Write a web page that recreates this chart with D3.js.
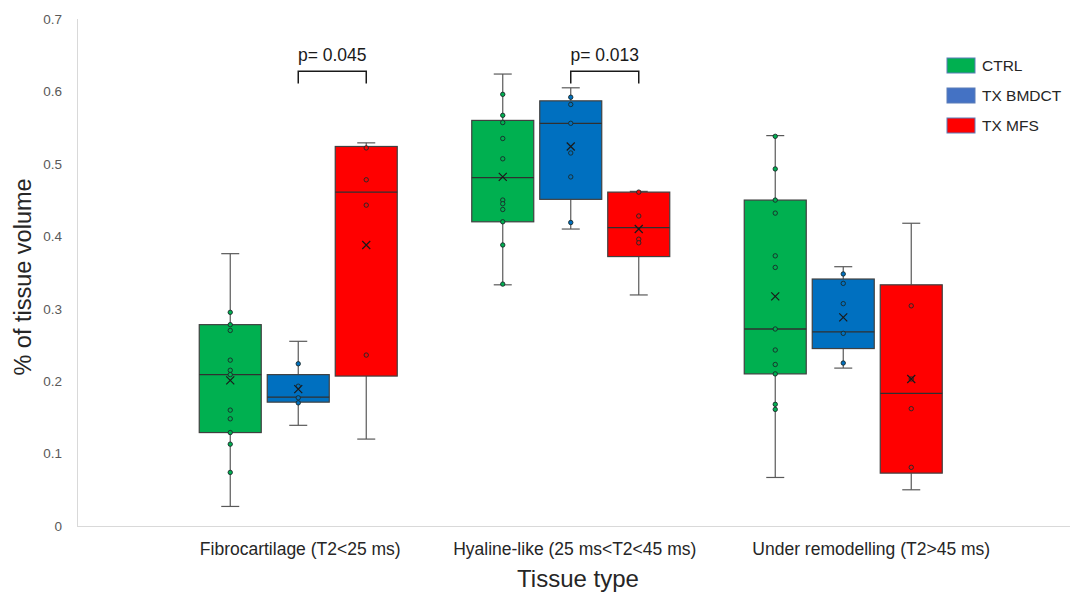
<!DOCTYPE html>
<html><head><meta charset="utf-8">
<script src="https://cdn.jsdelivr.net/npm/d3@7"></script>
<style>body{margin:0;background:#fff}svg{display:block}text{font-family:"Liberation Sans",Arial,sans-serif}</style>
</head><body><svg id="c" width="1070" height="594"></svg>
<script>
const categories = ["Fibrocartilage (T2<25 ms)", "Hyaline-like (25 ms<T2<45 ms)", "Under remodelling (T2>45 ms)"];
const series = ["CTRL", "TX BMDCT", "TX MFS"];
const yTicks = [0, 0.1, 0.2, 0.3, 0.4, 0.5, 0.6, 0.7];

const ctrlMin = [0.027, 0.333, 0.067];
const ctrlQ1 = [0.129, 0.420, 0.210];
const ctrlMedian = [0.209, 0.481, 0.272];
const ctrlQ3 = [0.278, 0.560, 0.450];
const ctrlMax = [0.376, 0.624, 0.539];
const ctrlMean = [0.201, 0.482, 0.317];
const ctrlPoints = [
  [0.295, 0.278, 0.270, 0.229, 0.215, 0.209, 0.160, 0.148, 0.129, 0.113, 0.074],
  [0.596, 0.567, 0.557, 0.535, 0.507, 0.450, 0.445, 0.437, 0.420, 0.388, 0.334],
  [0.538, 0.493, 0.450, 0.432, 0.373, 0.357, 0.272, 0.243, 0.223, 0.210, 0.168, 0.161]
];

const bmdctMin = [0.139, 0.410, 0.218];
const bmdctQ1 = [0.171, 0.451, 0.245];
const bmdctMedian = [0.178, 0.556, 0.268];
const bmdctQ3 = [0.209, 0.587, 0.341];
const bmdctMax = [0.255, 0.605, 0.358];
const bmdctMean = [0.189, 0.524, 0.288];
const bmdctPoints = [
  [0.224, 0.193, 0.177, 0.170],
  [0.592, 0.582, 0.556, 0.515, 0.482, 0.419],
  [0.348, 0.335, 0.307, 0.266, 0.225]
];

const mfsMin = [0.120, 0.319, 0.050];
const mfsQ1 = [0.207, 0.372, 0.073];
const mfsMedian = [0.461, 0.412, 0.183];
const mfsQ3 = [0.524, 0.461, 0.333];
const mfsMax = [0.529, 0.462, 0.418];
const mfsMean = [0.388, 0.410, 0.203];
const mfsPoints = [
  [0.522, 0.478, 0.443, 0.236],
  [0.461, 0.428, 0.396, 0.391],
  [0.304, 0.203, 0.162, 0.081]
];

const pLabels = ["p= 0.045", "p= 0.013"];
const pCategories = [0, 1];
const pPairs = [["TX BMDCT", "TX MFS"], ["TX BMDCT", "TX MFS"]];

// ---- build ----
const boxColors = {"CTRL": "#00B050", "TX BMDCT": "#0070C0", "TX MFS": "#FF0000"};
const legendColors = {"CTRL": "#00B050", "TX BMDCT": "#4472C4", "TX MFS": "#FF0000"};
const stats = {
  "CTRL": {min: ctrlMin, q1: ctrlQ1, med: ctrlMedian, q3: ctrlQ3, max: ctrlMax, mean: ctrlMean, pts: ctrlPoints},
  "TX BMDCT": {min: bmdctMin, q1: bmdctQ1, med: bmdctMedian, q3: bmdctQ3, max: bmdctMax, mean: bmdctMean, pts: bmdctPoints},
  "TX MFS": {min: mfsMin, q1: mfsQ1, med: mfsMedian, q3: mfsQ3, max: mfsMax, mean: mfsMean, pts: mfsPoints}
};

const svg = d3.select("#c");
const y = d3.scaleLinear().domain([0, 0.7]).range([526, 19]);
const x = d3.scaleBand().domain(categories).range([162, 979.5]);
const sub = d3.scalePoint().domain(series).range([-68, 68]);
const boxW = 62, capW = 18;
const cx = (ci, s) => x(categories[ci]) + x.bandwidth() / 2 + sub(s);

// axes lines
svg.append("line").attr("x1", 77.5).attr("x2", 77.5).attr("y1", y(0.7)).attr("y2", y(0)).attr("stroke", "#d9d9d9");
svg.append("line").attr("x1", 77).attr("x2", 1070).attr("y1", y(0) + 0.5).attr("y2", y(0) + 0.5).attr("stroke", "#d9d9d9");

// y axis labels
const yAxis = d3.axisLeft(y).tickValues(yTicks).tickSize(0).tickPadding(0).tickFormat(d => d === 0 ? "0" : d3.format(".1f")(d));
const ga = svg.append("g").attr("transform", "translate(62,0)").call(yAxis);
ga.select(".domain").remove();
ga.selectAll("text").attr("font-size", 13.5).attr("fill", "#595959").attr("font-family", '"Liberation Sans",Arial,sans-serif');

// category labels
const labelNudge = [2, 4, 28];
svg.selectAll(".cat").data(categories).enter().append("text")
  .attr("x", (d, i) => x(d) + x.bandwidth() / 2 + labelNudge[i])
  .attr("y", 555).attr("text-anchor", "middle").attr("font-size", 17.5).attr("fill", "#262626").text(d => d);

svg.append("text").attr("x", 578).attr("y", 587).attr("text-anchor", "middle").attr("font-size", 24).attr("fill", "#262626").text("Tissue type");
svg.append("text").attr("transform", "translate(31,277) rotate(-90)").attr("text-anchor", "middle").attr("font-size", 23.5).attr("fill", "#262626").text("% of tissue volume");

// boxes
series.forEach(s => {
  const st = stats[s];
  categories.forEach((c, ci) => {
    const X = cx(ci, s);
    const g = svg.append("g");
    g.append("line").attr("x1", X).attr("x2", X).attr("y1", y(st.max[ci])).attr("y2", y(st.q3[ci])).attr("stroke", "#595959").attr("stroke-width", 1.2);
    g.append("line").attr("x1", X).attr("x2", X).attr("y1", y(st.q1[ci])).attr("y2", y(st.min[ci])).attr("stroke", "#595959").attr("stroke-width", 1.2);
    g.append("line").attr("x1", X - capW / 2).attr("x2", X + capW / 2).attr("y1", y(st.max[ci])).attr("y2", y(st.max[ci])).attr("stroke", "#595959").attr("stroke-width", 1.2);
    g.append("line").attr("x1", X - capW / 2).attr("x2", X + capW / 2).attr("y1", y(st.min[ci])).attr("y2", y(st.min[ci])).attr("stroke", "#595959").attr("stroke-width", 1.2);
    g.append("rect").attr("x", X - boxW / 2).attr("width", boxW).attr("y", y(st.q3[ci])).attr("height", y(st.q1[ci]) - y(st.q3[ci]))
      .attr("fill", boxColors[s]).attr("stroke", "#404040").attr("stroke-width", 1.2);
    g.append("line").attr("x1", X - boxW / 2).attr("x2", X + boxW / 2).attr("y1", y(st.med[ci])).attr("y2", y(st.med[ci])).attr("stroke", "#303030").attr("stroke-width", 1.3);
    g.selectAll("circle").data(st.pts[ci]).enter().append("circle")
      .attr("cx", X).attr("cy", d => y(d)).attr("r", 2.2).attr("fill", boxColors[s]).attr("stroke", "#1a2a2a").attr("stroke-width", 0.9);
    const my = y(st.mean[ci]), m = 4;
    g.append("path").attr("d", `M${X - m},${my - m}L${X + m},${my + m}M${X - m},${my + m}L${X + m},${my - m}`).attr("stroke", "#1a1a1a").attr("stroke-width", 1.2);
  });
});

// significance brackets
const brTop = y(0.628), brBot = y(0.611);
pLabels.forEach((lab, i) => {
  const ci = pCategories[i];
  const x1 = cx(ci, pPairs[i][0]), x2 = cx(ci, pPairs[i][1]);
  svg.append("path").attr("d", `M${x1},${brBot}V${brTop}H${x2}V${brBot}`).attr("fill", "none").attr("stroke", "#1a1a1a").attr("stroke-width", 1.5);
  svg.append("text").attr("x", (x1 + x2) / 2).attr("y", brTop - 10).attr("text-anchor", "middle").attr("font-size", 17.5).attr("fill", "#1a1a1a").text(lab);
});

// legend
const lg = svg.append("g").attr("transform", "translate(947,58)");
series.forEach((s, i) => {
  lg.append("rect").attr("x", 0).attr("y", i * 30).attr("width", 28).attr("height", 15).attr("fill", legendColors[s]).attr("stroke", "#5b7db8").attr("stroke-width", 1);
  lg.append("text").attr("x", 35).attr("y", i * 30 + 13).attr("font-size", 15.5).attr("fill", "#262626").text(s);
});
</script></body></html>
